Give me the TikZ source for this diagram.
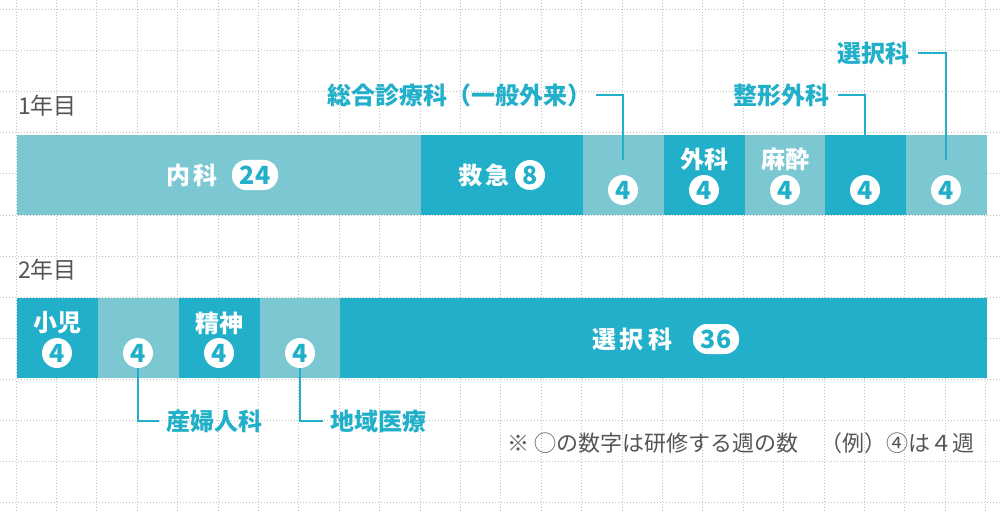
\documentclass[tikz,border=0pt]{standalone}
\usepackage{fontspec}
\setmainfont{Noto Sans CJK JP}
\usetikzlibrary{positioning}
\definecolor{lightbar}{HTML}{7CC8D2}
\definecolor{darkbar}{HTML}{22AFC9}
\definecolor{yeargray}{HTML}{555555}
\tikzset{
  blk/.style={anchor=north west,inner sep=0pt,outer sep=0pt,minimum height=80pt},
  lbl/.style={text=white,font=\bfseries\fontsize{24}{24}\selectfont,inner sep=0pt},
  wk/.style={circle,fill=white,text=darkbar,inner sep=0pt,minimum size=30pt,font=\bfseries\fontsize{25}{25}\selectfont},
  pill/.style={rounded corners=14pt,fill=white,text=darkbar,inner sep=0pt,minimum height=30pt,minimum width=46pt,font=\bfseries\fontsize{25}{25}\selectfont},
  call/.style={text=darkbar,font=\bfseries\fontsize{24}{24}\selectfont,inner sep=0pt},
  lead/.style={draw=darkbar,line width=2pt}
}
\begin{document}
\begin{tikzpicture}[x=1pt,y=-1pt]
\useasboundingbox (0,0) rectangle (1000,513);
% grid
\foreach \i in {0,...,24}
  \draw[gray!50,dotted,line width=1pt] (16+40.4*\i,0) -- (16+40.4*\i,513);
\foreach \j in {0,...,12}
  \draw[gray!50,dotted,line width=1pt] (0,10+41*\j) -- (1000,10+41*\j);
% year 1
\node[anchor=west,text=yeargray,font=\fontsize{23}{23}\selectfont,inner sep=0pt] (y1) at (18,106) {1年目};
\node[blk,fill=lightbar,minimum width=404pt] (naika) at (17,135) {};
\node[blk,fill=darkbar,minimum width=162pt] (kyukyu) at (421,135) {};
\node[blk,fill=lightbar,minimum width=81pt] (sogo) at (583,135) {};
\node[blk,fill=darkbar,minimum width=81pt] (geka) at (664,135) {};
\node[blk,fill=lightbar,minimum width=80pt] (masui) at (745,135) {};
\node[blk,fill=darkbar,minimum width=81pt] (seikei) at (825,135) {};
\node[blk,fill=lightbar,minimum width=81pt] (sentaku1) at (906,135) {};
\node[lbl] (naikaT) at (192,175) {内\,科};
\node[pill] (naikaN) at (255,175) {24};
\node[lbl] (kyukyuT) at (484,175) {救\,急};
\node[wk] (kyukyuN) at (530,175) {8};
\node[wk] (sogoN) at (623,190) {4};
\node[lbl] (gekaT) at (704,159) {外科};
\node[wk] (gekaN) at (704,190) {4};
\node[lbl] (masuiT) at (785,159) {麻酔};
\node[wk] (masuiN) at (785,190) {4};
\node[wk] (seikeiN) at (865,190) {4};
\node[wk] (sentaku1N) at (946,190) {4};
% year 2
\node[anchor=west,text=yeargray,font=\fontsize{23}{23}\selectfont,inner sep=0pt] (y2) at (18,270) {2年目};
\node[blk,fill=darkbar,minimum width=81pt] (shoni) at (17,298) {};
\node[blk,fill=lightbar,minimum width=81pt] (sanfu) at (98,298) {};
\node[blk,fill=darkbar,minimum width=81pt] (seishin) at (179,298) {};
\node[blk,fill=lightbar,minimum width=80pt] (chiiki) at (260,298) {};
\node[blk,fill=darkbar,minimum width=647pt] (sentaku2) at (340,298) {};
\node[lbl] (shoniT) at (57,323) {小児};
\node[wk] (shoniN) at (57,353) {4};
\node[wk] (sanfuN) at (138,353) {4};
\node[lbl] (seishinT) at (219,323) {精神};
\node[wk] (seishinN) at (219,353) {4};
\node[wk] (chiikiN) at (300,353) {4};
\node[lbl] (sentaku2T) at (632,339) {選\,択\,科};
\node[pill] (sentaku2N) at (716,339) {36};
% call-outs
\node[call,anchor=east] (sogoC) at (592,95) {総合診療科（一般外来）};
\node[call,anchor=east] (seikeiC) at (830,95) {整形外科};
\node[call,anchor=east] (sentakuC) at (910,53) {選択科};
\node[call,anchor=west] (sanfuC) at (166,421) {産婦人科};
\node[call,anchor=west] (chiikiC) at (330,421) {地域医療};
\draw[lead] (sogoC.east) ++(4,0) -| (623,160);
\draw[lead] (seikeiC.east) ++(8,0) -| (865,135);
\draw[lead] (sentakuC.east) ++(8,0) -| (946,160);
\draw[lead] (138,368) |- ([xshift=-7pt]sanfuC.west);
\draw[lead] (300,368) |- ([xshift=-7pt]chiikiC.west);
\node[anchor=east,text=yeargray,font=\fontsize{22}{22}\selectfont,inner sep=0pt] (note) at (975,443) {※ ◯の数字は研修する週の数\quad（例）④は４週};
\end{tikzpicture}
\end{document}
